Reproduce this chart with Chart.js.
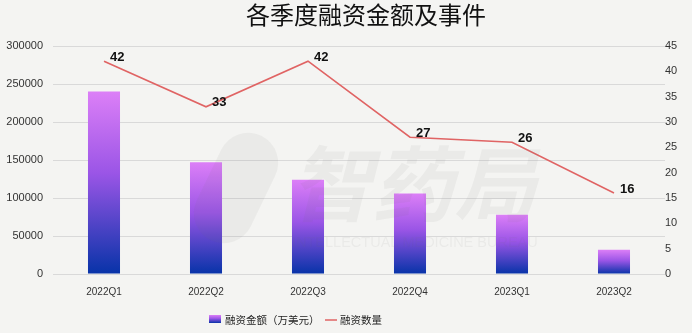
<!DOCTYPE html>
<html>
<head>
<meta charset="utf-8">
<script src="https://cdn.jsdelivr.net/npm/chart.js@4"></script>
<style>
  html, body { margin: 0; padding: 0; background: #f4f4f2; }
  #wrap { width: 692px; height: 333px; }
</style>
</head>
<body>
<div id="wrap"><canvas id="fundingChart" width="692" height="333"></canvas></div>
<script>
// Quarterly funding data
const quarters = ['2022Q1', '2022Q2', '2022Q3', '2022Q4', '2023Q1', '2023Q2'];
const amounts = [240000, 147000, 124000, 106000, 78000, 32000]; // 万美元
const counts = [42, 33, 42, 27, 26, 16];
const amountTicks = [0, 50000, 100000, 150000, 200000, 250000, 300000];
const countTicks = [0, 5, 10, 15, 20, 25, 30, 35, 40, 45];

const titleText = '各季度融资金额及事件';
const amountLabel = '融资金额（万美元）';
const countLabel = '融资数量';

const LINE_RED = '#e06464';

function barGradient(ctx, top, bottom) {
  const g = ctx.createLinearGradient(0, top, 0, bottom);
  g.addColorStop(0, '#dc7ff7');
  g.addColorStop(0.45, '#9a55e6');
  g.addColorStop(1, '#0733a8');
  return g;
}

// title, watermark, point labels and legend are painted by hand
const decorations = {
  id: 'decorations',
  beforeDraw(chart) {
    const c = chart.ctx;
    c.save();
    c.fillStyle = '#f4f4f2';
    c.fillRect(0, 0, chart.width, chart.height);
    c.restore();
  },
  afterDatasetsDraw(chart) {
    const c = chart.ctx;
    c.save();
    // faint watermark
    c.fillStyle = 'rgba(120,120,120,0.07)';
    c.font = 'italic bold 82px "Noto Sans CJK SC"';
    c.textAlign = 'left';
    c.textBaseline = 'middle';
    c.fillText('智药局', 290, 184);
    c.font = '14.5px "Liberation Sans"';
    c.fillText('INTELLECTUAL MEDICINE BUREAU', 292, 243);
    c.translate(236, 188);
    c.rotate(0.45);
    c.beginPath();
    c.roundRect(-30, -58, 60, 116, 30);
    c.fill();
    c.restore();

    // value labels on the line
    const meta = chart.getDatasetMeta(1);
    c.save();
    c.font = 'bold 13px "Liberation Sans"';
    c.fillStyle = '#111';
    c.textAlign = 'left';
    c.textBaseline = 'middle';
    meta.data.forEach((pt, i) => {
      c.fillText(String(counts[i]), pt.x + 6, pt.y - 4);
    });
    c.restore();
  },
  afterDraw(chart) {
    const c = chart.ctx;
    c.save();
    // title
    c.font = '24px "Noto Sans CJK SC"';
    c.fillStyle = '#111';
    c.textAlign = 'center';
    c.textBaseline = 'middle';
    c.fillText(titleText, 366, 15);

    // legend
    c.font = '10.5px "Noto Sans CJK SC"';
    c.textAlign = 'left';
    c.fillStyle = barGradient(c, 315, 323);
    c.fillRect(209, 315, 12, 8);
    c.fillStyle = '#222';
    c.fillText(amountLabel, 225, 320);
    c.strokeStyle = LINE_RED;
    c.lineWidth = 1.5;
    c.beginPath();
    c.moveTo(325, 320);
    c.lineTo(337, 320);
    c.stroke();
    c.fillText(countLabel, 340, 320);
    c.restore();
  }
};

const ctx = document.getElementById('fundingChart').getContext('2d');

new Chart(ctx, {
  type: 'bar',
  data: {
    labels: quarters,
    datasets: [
      {
        type: 'bar',
        label: amountLabel,
        data: amounts,
        yAxisID: 'y',
        order: 2,
        barPercentage: 0.314,
        categoryPercentage: 1,
        backgroundColor: (context) => {
          const chart = context.chart;
          if (!chart.chartArea) return '#9a55e6';
          const y = chart.scales.y;
          return barGradient(chart.ctx, y.getPixelForValue(context.raw), y.getPixelForValue(0));
        }
      },
      {
        type: 'line',
        label: countLabel,
        data: counts,
        yAxisID: 'y1',
        order: 1,
        borderColor: LINE_RED,
        borderWidth: 1.6,
        pointRadius: 0,
        tension: 0,
        fill: false
      }
    ]
  },
  options: {
    responsive: false,
    animation: false,
    layout: { padding: { top: 46 } },
    plugins: {
      legend: { display: false },
      title: { display: false },
      tooltip: { enabled: false }
    },
    scales: {
      x: {
        grid: { display: false, drawTicks: false },
        border: { display: false },
        ticks: {
          color: '#333',
          font: { family: 'Liberation Sans', size: 10 },
          padding: 12,
          maxRotation: 0
        },
        afterFit: (scale) => { scale.height = 59; }
      },
      y: {
        position: 'left',
        min: 0,
        max: 300000,
        afterBuildTicks: (scale) => { scale.ticks = amountTicks.map(v => ({ value: v })); },
        grid: { color: '#d9d9d9', lineWidth: 1, drawTicks: false },
        border: { display: false },
        ticks: {
          color: '#333',
          font: { family: 'Liberation Sans', size: 11 },
          padding: 10,
          callback: (v) => String(v)
        },
        afterFit: (scale) => { scale.width = 53; }
      },
      y1: {
        position: 'right',
        min: 0,
        max: 45,
        afterBuildTicks: (scale) => { scale.ticks = countTicks.map(v => ({ value: v })); },
        grid: { display: false, drawTicks: false },
        border: { display: false },
        ticks: {
          color: '#333',
          font: { family: 'Liberation Sans', size: 11 },
          padding: 0,
          callback: (v) => String(v)
        },
        afterFit: (scale) => { scale.width = 27; }
      }
    }
  },
  plugins: [decorations]
});
</script>
</body>
</html>
